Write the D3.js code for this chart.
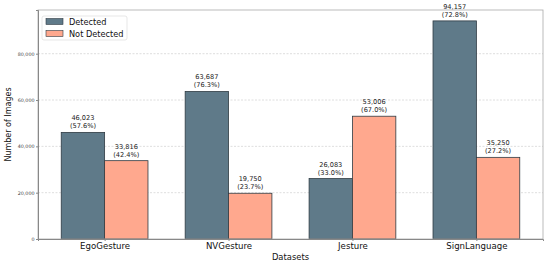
<!DOCTYPE html>
<html>
<head>
<meta charset="utf-8">
<script src="https://cdn.jsdelivr.net/npm/d3@7"></script>
<style>
  body { margin: 0; background: #fff; }
  text { font-family: "DejaVu Sans", sans-serif; }
</style>
</head>
<body>
<div id="chart"></div>
<script>
// chart data
var datasets = ["EgoGesture", "NVGesture", "Jesture", "SignLanguage"];
var detected = [46023, 63687, 26083, 94157];
var notDetected = [33816, 19750, 53006, 35250];
var detectedPct = ["57.6%", "76.3%", "33.0%", "72.8%"];
var notDetectedPct = ["42.4%", "23.7%", "67.0%", "27.2%"];
var seriesNames = ["Detected", "Not Detected"];
var yTicks = [0, 20000, 40000, 60000, 80000];

var colors = ["#5f7a89", "#ffa88e"];

var margin = { top: 10, right: 7, bottom: 24, left: 38 };
var width = 550 - margin.left - margin.right,
    height = 263 - margin.top - margin.bottom;

var svg = d3.select("#chart").append("svg")
    .attr("width", 550)
    .attr("height", 263)
    .append("g")
    .attr("transform", "translate(" + margin.left + "," + margin.top + ")");

var barW = 0.35;
var x = d3.scaleLinear()
    .domain([-0.5375, 3.5375])
    .range([0, width]);

var y = d3.scaleLinear()
    .domain([0, 94157 * 1.05])
    .range([height, 0]);

// grid
svg.selectAll(".grid")
    .data(yTicks.slice(1))
    .enter().append("line")
    .attr("x1", 0)
    .attr("x2", width)
    .attr("y1", function (d) { return y(d); })
    .attr("y2", function (d) { return y(d); })
    .attr("stroke", "#d0d0d0")
    .attr("stroke-width", 0.7)
    .attr("stroke-dasharray", "2,1.5");

// bars
var rows = datasets.map(function (d, i) {
    return [
        { i: i, s: 0, v: detected[i], p: detectedPct[i] },
        { i: i, s: 1, v: notDetected[i], p: notDetectedPct[i] }
    ];
});
var flat = [].concat.apply([], rows);

svg.selectAll(".bar")
    .data(flat)
    .enter().append("rect")
    .attr("x", function (d) { return x(d.i + (d.s === 0 ? -barW : 0)); })
    .attr("y", function (d) { return y(d.v); })
    .attr("width", x(barW) - x(0))
    .attr("height", function (d) { return y(0) - y(d.v); })
    .attr("fill", function (d) { return colors[d.s]; })
    .attr("stroke", "#2f3b43")
    .attr("stroke-width", 0.8);

// value labels
var lbl = svg.selectAll(".lbl")
    .data(flat)
    .enter().append("text")
    .attr("text-anchor", "middle")
    .attr("font-size", 6.6)
    .attr("fill", "#222");
lbl.append("tspan")
    .attr("x", function (d) { return x(d.i + (d.s === 0 ? -barW / 2 : barW / 2)); })
    .attr("y", function (d) { return y(d.v) - 12; })
    .text(function (d) { return d3.format(",")(d.v); });
lbl.append("tspan")
    .attr("x", function (d) { return x(d.i + (d.s === 0 ? -barW / 2 : barW / 2)); })
    .attr("y", function (d) { return y(d.v) - 4; })
    .text(function (d) { return "(" + d.p + ")"; });

// frame
svg.append("rect")
    .attr("width", width)
    .attr("height", height)
    .attr("fill", "none")
    .attr("stroke", "#aaa")
    .attr("stroke-width", 0.8);

// axes
var yAxis = d3.axisLeft(y)
    .tickValues(yTicks)
    .tickSize(2)
    .tickFormat(d3.format(","));
var gy = svg.append("g").attr("class", "y-axis axis").call(yAxis);
gy.select(".domain").attr("stroke", "#888");
gy.selectAll(".tick line").attr("stroke", "#888");
gy.selectAll("text").attr("font-size", 4.8).attr("fill", "#444").attr("x", -3.5);

var xAxis = d3.axisBottom(x)
    .tickValues([0, 1, 2, 3])
    .tickSize(2)
    .tickFormat(function (d, i) { return datasets[i]; });
var gx = svg.append("g")
    .attr("class", "x-axis axis")
    .attr("transform", "translate(0," + height + ")")
    .call(xAxis);
gx.select(".domain").attr("stroke", "#888");
gx.selectAll(".tick line").attr("stroke", "#888");
gx.selectAll("text").attr("font-size", 8.6).attr("fill", "#111").attr("y", 3.5);

// axis titles
svg.append("text")
    .attr("x", width / 2)
    .attr("y", height + 21)
    .attr("text-anchor", "middle")
    .attr("font-size", 8.4)
    .attr("fill", "#111")
    .text("Datasets");

svg.append("text")
    .attr("transform", "translate(-27," + (height / 2) + ") rotate(-90)")
    .attr("text-anchor", "middle")
    .attr("font-size", 8)
    .attr("fill", "#111")
    .text("Number of Images");

// legend
var leg = svg.append("g").attr("transform", "translate(4,6)");
leg.append("rect")
    .attr("width", 85)
    .attr("height", 24)
    .attr("rx", 2)
    .attr("fill", "#fff")
    .attr("stroke", "#ddd")
    .attr("stroke-width", 0.7);
leg.selectAll(".sw")
    .data(seriesNames)
    .enter().append("rect")
    .attr("x", 4)
    .attr("y", function (d, i) { return 2.5 + i * 12; })
    .attr("width", 17)
    .attr("height", 6)
    .attr("fill", function (d, i) { return colors[i]; })
    .attr("stroke", "#2f3b43")
    .attr("stroke-width", 0.6);
leg.selectAll(".lt")
    .data(seriesNames)
    .enter().append("text")
    .attr("x", 27)
    .attr("y", function (d, i) { return 9 + i * 12; })
    .attr("font-size", 8.2)
    .attr("fill", "#111")
    .text(function (d) { return d; });
</script>
</body>
</html>
